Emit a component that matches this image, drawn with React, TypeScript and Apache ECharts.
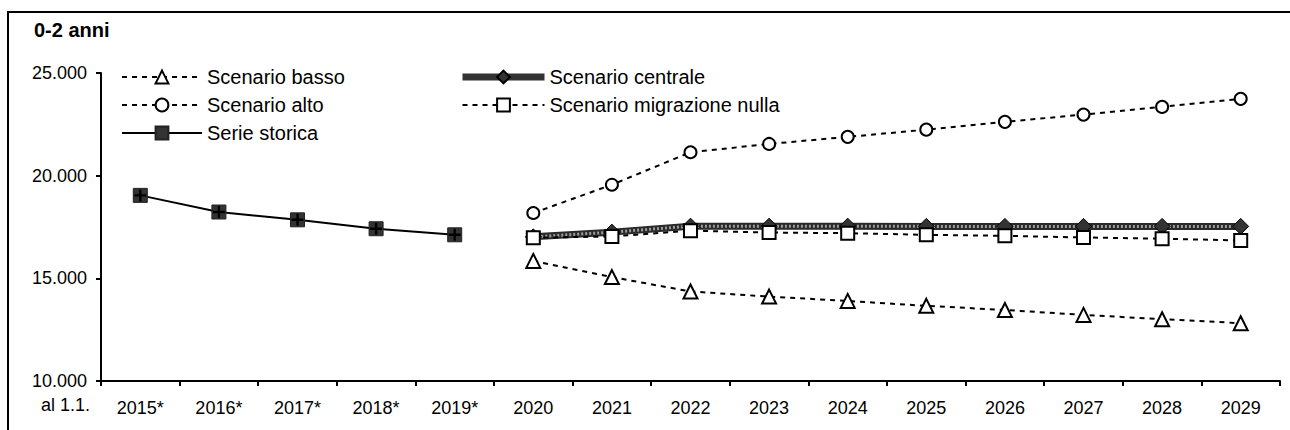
import React, { useEffect, useRef } from "react";
import * as echarts from "echarts";

const categories = ["2015*", "2016*", "2017*", "2018*", "2019*", "2020", "2021", "2022", "2023", "2024", "2025", "2026", "2027", "2028", "2029"];
const serieStorica = [19040, 18230, 17850, 17415, 17120, null, null, null, null, null, null, null, null, null, null];
const scenarioBasso = [null, null, null, null, null, 15850, 15060, 14360, 14110, 13900, 13660, 13460, 13220, 13010, 12815];
const scenarioAlto = [null, null, null, null, null, 18180, 19560, 21140, 21545, 21890, 22240, 22620, 22975, 23350, 23740];
const scenarioCentrale = [null, null, null, null, null, 17020, 17250, 17540, 17540, 17540, 17530, 17530, 17530, 17530, 17530];
const scenarioMigrazioneNulla = [null, null, null, null, null, 16975, 17040, 17320, 17230, 17200, 17120, 17070, 16990, 16930, 16845];
const yTicks = { min: 10000, max: 25000, interval: 5000 };
const titleText = "0-2 anni";
const axisNote = "al 1.1.";

const FONT = "Liberation Sans, Arial, sans-serif";

function fmt(v: number) {
  return String(v).replace(/\B(?=(\d{3})+(?!\d))/g, ".");
}

export default function App() {
  const ref = useRef<HTMLDivElement>(null);
  useEffect(() => {
    if (!ref.current) return;
    const chart = echarts.init(ref.current, null, { renderer: "svg" });
    const dash = [5, 5];
    const legendText = { fontFamily: FONT, fontSize: 20, color: "#000" };
    chart.setOption({
      animation: false,
      textStyle: { fontFamily: FONT },
      grid: { left: 101, right: 10, top: 73, bottom: 49, containLabel: false },
      graphic: [
        { type: "rect", shape: { x: 8, y: 12, width: 1300, height: 440 }, style: { fill: "none", stroke: "#000", lineWidth: 2 }, silent: true },
        { type: "text", x: 34, y: 20, style: { text: titleText, fontFamily: FONT, fontSize: 20, fontWeight: "bold", fill: "#000" } },
        { type: "text", x: 41, y: 396, style: { text: axisNote, fontFamily: FONT, fontSize: 18, fill: "#000" } },
      ],
      legend: [
        {
          left: 116, top: 62, orient: "vertical", itemGap: 8, itemWidth: 80, itemHeight: 16,
          textStyle: legendText,
          data: ["Scenario basso", "Scenario alto", "Serie storica"],
          selectedMode: false,
        },
        {
          left: 454, top: 62, orient: "vertical", itemGap: 8, itemWidth: 82, itemHeight: 16,
          textStyle: legendText,
          data: [
            { name: "Scenario centrale", lineStyle: { width: 7, color: "#333" } },
            "Scenario migrazione nulla",
          ],
          selectedMode: false,
        },
      ],
      xAxis: {
        type: "category",
        data: categories,
        boundaryGap: true,
        axisLine: { lineStyle: { color: "#000", width: 2 } },
        axisTick: { show: true, length: 5, lineStyle: { color: "#000", width: 2 } },
        axisLabel: { color: "#000", fontSize: 18, fontFamily: FONT, margin: 18, interval: 0 },
        splitLine: { show: false },
      },
      yAxis: {
        type: "value",
        min: yTicks.min, max: yTicks.max, interval: yTicks.interval,
        axisLine: { show: true, lineStyle: { color: "#000", width: 2 } },
        axisTick: { show: true, length: 5, lineStyle: { color: "#000", width: 2 } },
        axisLabel: { color: "#000", fontSize: 18, fontFamily: FONT, margin: 14, formatter: (v: number) => fmt(v) },
        splitLine: { show: false },
      },
      series: [
        {
          name: "Serie storica", type: "line", data: serieStorica,
          symbol: "rect", symbolSize: 14,
          itemStyle: { color: "#333", borderColor: "#222", borderWidth: 1 },
          lineStyle: { color: "#000", width: 2 }, z: 3,
        },
        {
          name: "_storica_plus", type: "line", data: serieStorica,
          symbol: "path://M4,0H6V4H10V6H6V10H4V6H0V4H4Z", symbolSize: 12,
          itemStyle: { color: "#000" }, lineStyle: { width: 0, opacity: 0 }, z: 4, silent: true,
        },
        {
          name: "Scenario centrale", type: "line", data: scenarioCentrale,
          symbol: "diamond", symbolSize: 16,
          itemStyle: { color: "#333", borderColor: "#000", borderWidth: 1 },
          lineStyle: { color: "#2a2a2a", width: 7 }, z: 2,
        },
        {
          name: "_centrale_fill", type: "line", data: scenarioCentrale,
          symbol: "none",
          lineStyle: { color: "#9a9a9a", width: 3, type: [2, 2] }, z: 2, silent: true,
        },
        {
          name: "Scenario migrazione nulla", type: "line", data: scenarioMigrazioneNulla,
          symbol: "rect", symbolSize: 13,
          itemStyle: { color: "#fff", borderColor: "#000", borderWidth: 2 },
          lineStyle: { color: "#000", width: 2, type: dash }, z: 5,
        },
        {
          name: "Scenario basso", type: "line", data: scenarioBasso,
          symbol: "triangle", symbolSize: 14,
          itemStyle: { color: "#fff", borderColor: "#000", borderWidth: 2 },
          lineStyle: { color: "#000", width: 2, type: dash }, z: 5,
        },
        {
          name: "Scenario alto", type: "line", data: scenarioAlto,
          symbol: "circle", symbolSize: 12,
          itemStyle: { color: "#fff", borderColor: "#000", borderWidth: 2 },
          lineStyle: { color: "#000", width: 2, type: dash }, z: 5,
        },
      ],
    });
    return () => chart.dispose();
  }, []);
  return <div ref={ref} style={{ position: "absolute", left: 0, top: 0, width: 1290, height: 430 }} />;
}
